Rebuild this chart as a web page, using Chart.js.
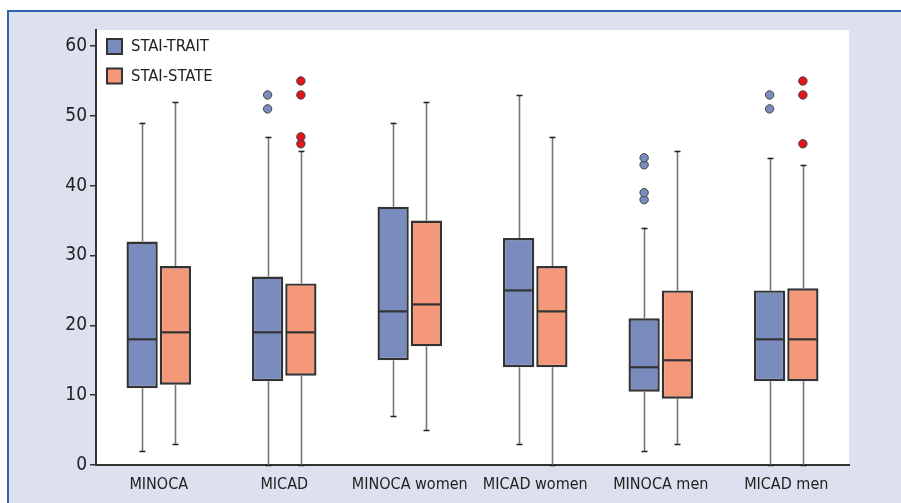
<!DOCTYPE html>
<html>
<head>
<meta charset="utf-8">
<script src="https://cdn.jsdelivr.net/npm/chart.js@4.4.1/dist/chart.umd.min.js"></script>
<style>
  html, body { margin: 0; padding: 0; background: #fff; }
  #panel {
    position: absolute; left: 7px; top: 10px; width: 894px; height: 493px;
    background: #dde1ef; border-top: 2px solid #2f63ad; border-left: 2px solid #2f63ad;
    box-sizing: border-box;
  }
  #wrap { position: absolute; left: 0; top: 0; width: 901px; height: 503px; }
</style>
</head>
<body>
<div id="panel"></div>
<div id="wrap"><canvas id="boxChart" width="901" height="503"></canvas></div>
<script>
const categories = [ 'MINOCA', 'MICAD', 'MINOCA women', 'MICAD women', 'MINOCA men', 'MICAD men' ];

// STAI-TRAIT
const traitMin = [ 2, 0, 7, 3, 2, 0 ];
const traitQ1 = [ 11, 12, 15, 14, 10.5, 12 ];
const traitMedian = [ 18, 19, 22, 25, 14, 18 ];
const traitQ3 = [ 32, 27, 37, 32.5, 21, 25 ];
const traitMax = [ 49, 47, 49, 53, 34, 44 ];
const traitOutliers = [ [], [ 51, 53 ], [], [], [ 38, 39, 43, 44 ], [ 51, 53 ] ];

// STAI-STATE
const stateMin = [ 3, 0, 5, 0, 3, 0 ];
const stateQ1 = [ 11.5, 12.8, 17, 14, 9.5, 12 ];
const stateMedian = [ 19, 19, 23, 22, 15, 18 ];
const stateQ3 = [ 28.5, 26, 35, 28.5, 25, 25.3 ];
const stateMax = [ 52, 45, 52, 47, 45, 43 ];
const stateOutliers = [ [], [ 46, 47, 53, 55 ], [], [], [], [ 46, 53, 55 ] ];

const yTicks = [ 0, 10, 20, 30, 40, 50, 60 ];

const FONT = "'DejaVu Sans Condensed', 'Liberation Sans', sans-serif";
const traitColor = '#7a8bbd';
const stateColor = '#f5987a';

const stats = [
	{ min: traitMin, median: traitMedian, max: traitMax, outliers: traitOutliers, dot: traitColor },
	{ min: stateMin, median: stateMedian, max: stateMax, outliers: stateOutliers, dot: '#e3141b' }
];

// white plot area
const plotBg = {
	id: 'plotBg',
	beforeDraw(chart) {
		const { ctx, chartArea: a } = chart;
		ctx.save();
		ctx.fillStyle = '#fff';
		ctx.fillRect(a.left, a.top, a.right - a.left, a.bottom - a.top);
		ctx.restore();
	}
};

// whiskers, medians, outliers, legend
const boxParts = {
	id: 'boxParts',
	afterDatasetsDraw(chart) {
		const ctx = chart.ctx;
		const y = chart.scales.y;
		ctx.save();
		stats.forEach((s, i) => {
			const meta = chart.getDatasetMeta(i);
			meta.data.forEach((bar, j) => {
				const x = Math.round(bar.x) + 0.5;
				const half = bar.width / 2;
				const q1 = chart.data.datasets[i].data[j][0];
				const q3 = chart.data.datasets[i].data[j][1];
				// whisker lines
				ctx.strokeStyle = '#777';
				ctx.lineWidth = 1.6;
				ctx.beginPath();
				ctx.moveTo(x, y.getPixelForValue(q3));
				ctx.lineTo(x, y.getPixelForValue(s.max[j]));
				ctx.moveTo(x, y.getPixelForValue(q1));
				ctx.lineTo(x, y.getPixelForValue(s.min[j]));
				ctx.stroke();
				// caps
				ctx.strokeStyle = '#222';
				ctx.lineWidth = 1.5;
				ctx.beginPath();
				[ s.max[j], s.min[j] ].forEach((v) => {
					const py = Math.round(y.getPixelForValue(v)) + 0.5;
					ctx.moveTo(x - 3, py);
					ctx.lineTo(x + 3, py);
				});
				ctx.stroke();
				// median
				ctx.strokeStyle = '#333';
				ctx.lineWidth = 2.2;
				ctx.beginPath();
				const my = y.getPixelForValue(s.median[j]);
				ctx.moveTo(bar.x - half + 1, my);
				ctx.lineTo(bar.x + half - 1, my);
				ctx.stroke();
				// outliers
				s.outliers[j].forEach((v) => {
					ctx.beginPath();
					ctx.arc(bar.x, y.getPixelForValue(v), 4.2, 0, Math.PI * 2);
					ctx.fillStyle = s.dot;
					ctx.fill();
					ctx.strokeStyle = '#444';
					ctx.lineWidth = 1;
					ctx.stroke();
				});
			});
		});
		ctx.restore();
	},
	afterDraw(chart) {
		const ctx = chart.ctx;
		ctx.save();
		ctx.font = '16.5px ' + FONT;
		ctx.textBaseline = 'middle';
		chart.data.datasets.forEach((ds, i) => {
			const top = 39 + i * 29.5;
			ctx.fillStyle = ds.backgroundColor;
			ctx.fillRect(107, top, 15, 15);
			ctx.strokeStyle = '#333';
			ctx.lineWidth = 2;
			ctx.strokeRect(107, top, 15, 15);
			ctx.fillStyle = '#222';
			ctx.fillText(ds.label, 131, top + 8);
		});
		ctx.restore();
	}
};

const boxChart = new Chart(document.getElementById('boxChart').getContext('2d'), {
	type: 'bar',
	data: {
		labels: categories,
		datasets: [
			{
				label: 'STAI-TRAIT',
				data: traitQ1.map((v, i) => [ v, traitQ3[i] ]),
				backgroundColor: traitColor,
				borderColor: '#333',
				borderWidth: 2.4,
				borderSkipped: false
			},
			{
				label: 'STAI-STATE',
				data: stateQ1.map((v, i) => [ v, stateQ3[i] ]),
				backgroundColor: stateColor,
				borderColor: '#333',
				borderWidth: 2.4,
				borderSkipped: false
			}
		]
	},
	options: {
		responsive: false,
		animation: false,
		categoryPercentage: 0.53,
		barPercentage: 0.94,
		layout: {
			padding: { left: 0, top: 30, right: 52, bottom: 0 }
		},
		plugins: {
			legend: { display: false },
			tooltip: { enabled: false }
		},
		scales: {
			x: {
				grid: { display: true, drawOnChartArea: false, drawTicks: false },
				border: { display: true, color: '#333', width: 2 },
				ticks: {
					color: '#222',
					font: { family: FONT, size: 16 },
					padding: 10,
					maxRotation: 0,
					autoSkip: false
				},
				afterFit(s) { s.height = 38; }
			},
			y: {
				min: 0,
				max: 62.3,
				afterBuildTicks(s) { s.ticks = yTicks.map((v) => ({ value: v })); },
				grid: { display: true, drawOnChartArea: false, drawTicks: true, tickLength: 6, color: '#333', lineWidth: 1.5 },
				border: { display: true, color: '#333', width: 2 },
				ticks: {
					color: '#222',
					font: { family: FONT, size: 19 },
					padding: 3
				},
				afterFit(s) { s.width = 96; }
			}
		}
	},
	plugins: [ plotBg, boxParts ]
});
</script>
</body>
</html>
